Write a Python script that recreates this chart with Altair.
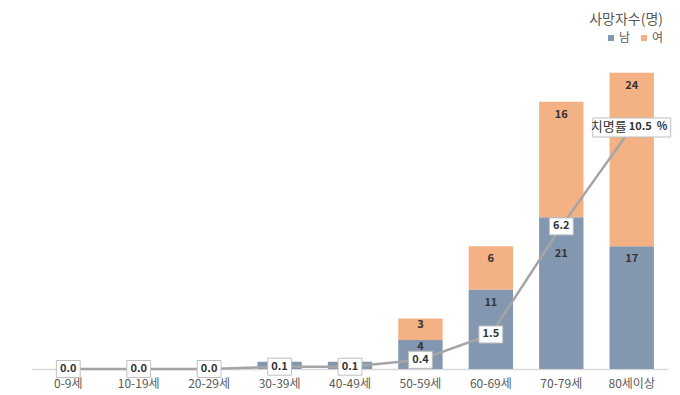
import altair as alt
import pandas as pd

groups = ["0-9세", "10-19세", "20-29세", "30-39세", "40-49세", "50-59세", "60-69세", "70-79세", "80세이상"]
male = [0, 0, 0, 1, 1, 4, 11, 21, 17]
female = [0, 0, 0, 0, 0, 3, 6, 16, 24]
rate = [0.0, 0.0, 0.0, 0.1, 0.1, 0.4, 1.5, 6.2, 10.5]

FONT = "Noto Sans CJK KR"
MALE_C = "#8497B0"
FEMALE_C = "#F4B183"
TXT = "#333333"

rows = []
for g, m, f in zip(groups, male, female):
    rows.append({"group": g, "sex": "남", "value": m, "bottom": 0, "top": m})
    rows.append({"group": g, "sex": "여", "value": f, "bottom": m, "top": m + f})
bars_df = pd.DataFrame(rows)
bars_df["label_y"] = bars_df["top"] - bars_df["value"].apply(lambda v: 1.8 if v >= 5 else 0.9)
lab_df = bars_df[bars_df["value"] > 1]
# the label that Excel moved down, away from the 6.2 rate box
moved = (lab_df["group"] == "70-79세") & (lab_df["sex"] == "남")
lab_main = lab_df[~moved]
lab_moved = lab_df[moved]

rate_df = pd.DataFrame({"group": groups, "rate": rate})
rate_df["label"] = [f"{r:.1f}" for r in rate]
small_df = rate_df.iloc[:-1]
last_df = rate_df.iloc[-1:]

x = alt.X("group:N", sort=groups, title=None,
          scale=alt.Scale(paddingInner=0.37, paddingOuter=0.2),
          axis=alt.Axis(labelAngle=0, ticks=False, domainColor="#D9D9D9", domainWidth=1.5,
                        labelColor="#595959", labelFont=FONT, labelFontSize=12, labelPadding=9))
xs = alt.X("group:N", sort=groups)
yb = alt.Scale(domain=[0, 45.4], nice=False)
yr = alt.Scale(domain=[0, 14.26], nice=False)

bars = alt.Chart(bars_df).mark_bar().encode(
    x=x,
    y=alt.Y("top:Q", scale=yb, axis=None),
    y2="bottom:Q",
    color=alt.Color("sex:N", sort=["남", "여"],
                    scale=alt.Scale(domain=["남", "여"], range=[MALE_C, FEMALE_C]),
                    legend=alt.Legend(title="사망자수(명)", orient="none", legendX=557, legendY=-28,
                                      direction="horizontal", titleAnchor="end", titleFont=FONT,
                                      titleFontSize=14, titleFontWeight="normal", titleColor="#595959",
                                      labelFont=FONT, labelFontSize=12, labelColor="#595959",
                                      symbolType="square", symbolSize=36, symbolStrokeWidth=0,
                                      columnPadding=7, titlePadding=5, labelOffset=2)),
)

bar_labels = alt.Chart(lab_main).mark_text(font=FONT, fontSize=11, fontWeight="bold", color=TXT,
                                           baseline="middle").encode(
    x=xs, y=alt.Y("label_y:Q", scale=yb, axis=None), text="value:Q",
)
bar_labels_moved = alt.Chart(lab_moved).mark_text(font=FONT, fontSize=11, fontWeight="bold", color=TXT,
                                                  baseline="middle", dy=24).encode(
    x=xs, y=alt.Y("label_y:Q", scale=yb, axis=None), text="value:Q",
)

bar_layer = alt.layer(bars, bar_labels, bar_labels_moved)

line = alt.Chart(rate_df).mark_line(color="#A5A5A5", strokeWidth=2.5).encode(
    x=xs, y=alt.Y("rate:Q", scale=yr, axis=None),
)
boxes = alt.Chart(small_df).mark_point(shape="M-1.4,-1H1.4V1H-1.4Z", size=289, filled=True,
                                       fill="white", stroke="#BFBFBF", strokeWidth=1, opacity=1).encode(
    x=xs, y=alt.Y("rate:Q", scale=yr, axis=None),
)
box_text = alt.Chart(small_df).mark_text(font=FONT, fontSize=11, fontWeight="bold", color=TXT).encode(
    x=xs, y=alt.Y("rate:Q", scale=yr, axis=None), text="label:N",
)
big_box = alt.Chart(last_df).mark_point(shape="M-4.1,-1H4.1V1H-4.1Z", size=361, filled=True,
                                        fill="white", stroke="#BFBFBF", strokeWidth=1, opacity=1).encode(
    x=xs, y=alt.Y("rate:Q", scale=yr, axis=None),
)
big_t1 = alt.Chart(last_df).mark_text(font=FONT, fontSize=13, color=TXT, align="right", dx=-5).encode(
    x=xs, y=alt.Y("rate:Q", scale=yr, axis=None), text=alt.value("치명률"),
)
big_t2 = alt.Chart(last_df).mark_text(font=FONT, fontSize=11, fontWeight="bold", color=TXT,
                                      align="left", dx=-3).encode(
    x=xs, y=alt.Y("rate:Q", scale=yr, axis=None), text=alt.Text("rate:Q", format=".1f"),
)
big_t3 = alt.Chart(last_df).mark_text(font=FONT, fontSize=11, fontWeight="bold", color=TXT,
                                      align="left", dx=25).encode(
    x=xs, y=alt.Y("rate:Q", scale=yr, axis=None), text=alt.value("%"),
)

line_layer = alt.layer(line, boxes, box_text, big_box, big_t1, big_t2, big_t3)

chart = alt.layer(bar_layer, line_layer).resolve_scale(y="independent").properties(
    width=636, height=328,
    background="white",
    autosize=alt.AutoSizeParams(type="none"),
    padding={"left": 24, "top": 33, "right": 4, "bottom": 20},
).configure_view(strokeWidth=0, stroke="transparent")

chart.save("out.html", embed_options={"renderer": "svg", "actions": False})
